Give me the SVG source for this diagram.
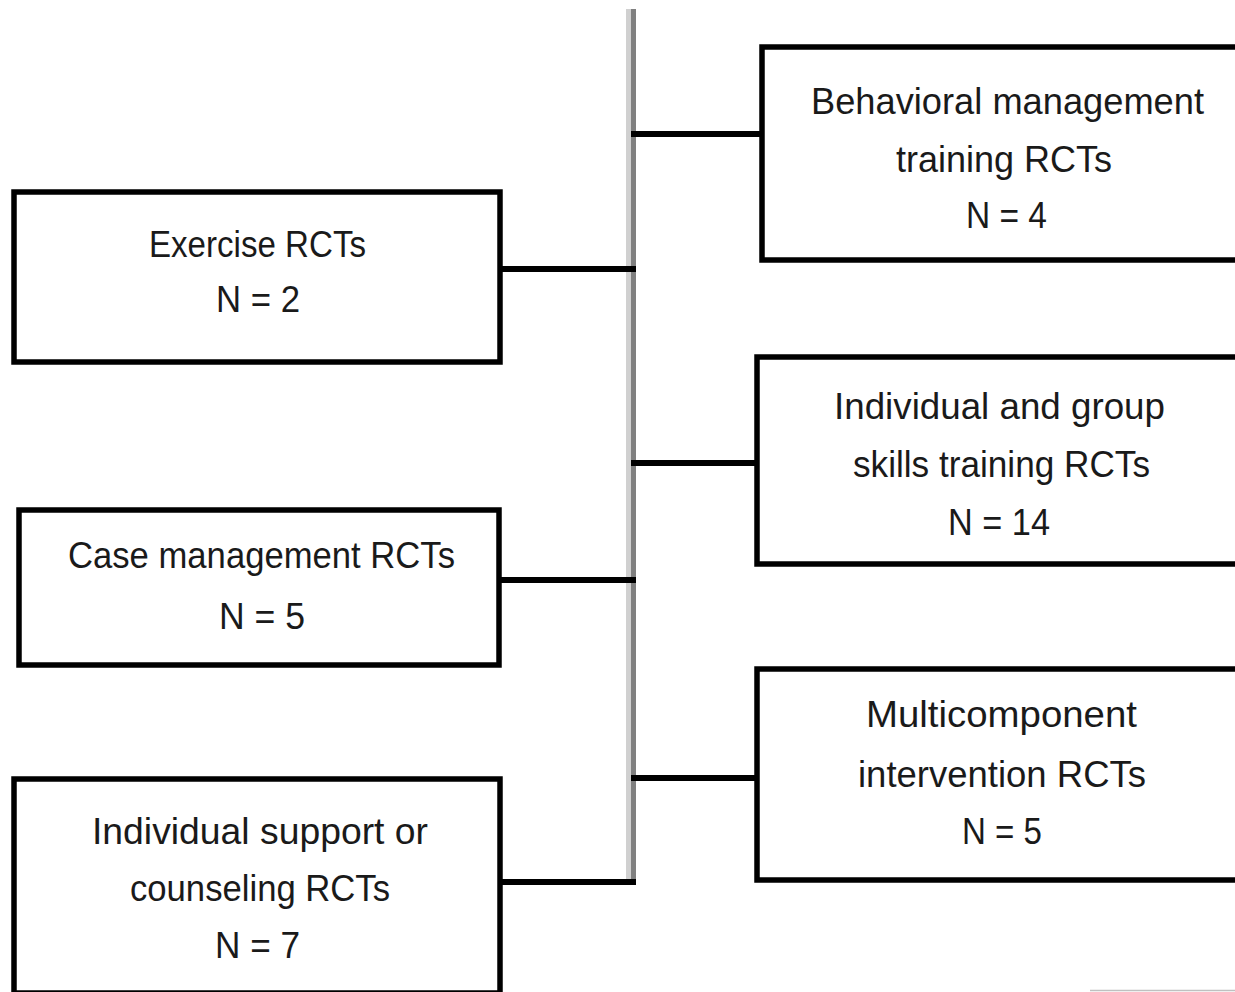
<svg xmlns="http://www.w3.org/2000/svg" width="1235" height="992" viewBox="0 0 1235 992">
<style>
.box{fill:#fff;stroke:#000;stroke-width:5.5}
.con{stroke:#000;stroke-width:6;fill:none}
.t{font-family:"Liberation Sans",Arial,sans-serif;font-size:36px;fill:#1a1a1a;text-anchor:middle}
</style>
<rect width="1235" height="992" fill="#fff"/>
<g id="connectors">
<rect x="626" y="9" width="5" height="870" fill="#d0d0d0"/>
<rect x="631" y="9" width="5" height="870" fill="#808080"/>
<line class="con" x1="500" y1="269" x2="636" y2="269"/>
<line class="con" x1="500" y1="580" x2="636" y2="580"/>
<line class="con" x1="500" y1="882" x2="636" y2="882"/>
<line class="con" x1="631" y1="134" x2="762" y2="134"/>
<line class="con" x1="631" y1="463" x2="757" y2="463"/>
<line class="con" x1="631" y1="778" x2="757" y2="778"/>
</g>
<g id="exercise">
<rect class="box" x="14" y="192" width="486" height="170"/>
<text class="t" x="257.5" y="257" textLength="217" lengthAdjust="spacingAndGlyphs">Exercise RCTs</text>
<text class="t" x="258" y="312" textLength="84" lengthAdjust="spacingAndGlyphs">N = 2</text>
</g>
<g id="case-management">
<rect class="box" x="19" y="510" width="480" height="155"/>
<text class="t" x="261.5" y="568" textLength="387" lengthAdjust="spacingAndGlyphs">Case management RCTs</text>
<text class="t" x="262" y="629" textLength="86" lengthAdjust="spacingAndGlyphs">N = 5</text>
</g>
<g id="individual-support">
<rect class="box" x="14" y="779" width="486" height="214"/>
<text class="t" x="260" y="844" textLength="336" lengthAdjust="spacingAndGlyphs">Individual support or</text>
<text class="t" x="260" y="901" textLength="260" lengthAdjust="spacingAndGlyphs">counseling RCTs</text>
<text class="t" x="257.5" y="958" textLength="85" lengthAdjust="spacingAndGlyphs">N = 7</text>
</g>
<g id="behavioral">
<rect class="box" x="762" y="47" width="500" height="213"/>
<text class="t" x="1007.5" y="114" textLength="393" lengthAdjust="spacingAndGlyphs">Behavioral management</text>
<text class="t" x="1004" y="172" textLength="216" lengthAdjust="spacingAndGlyphs">training RCTs</text>
<text class="t" x="1006.5" y="228" textLength="81" lengthAdjust="spacingAndGlyphs">N = 4</text>
</g>
<g id="skills-training">
<rect class="box" x="757" y="357" width="500" height="207"/>
<text class="t" x="999.5" y="419" textLength="331" lengthAdjust="spacingAndGlyphs">Individual and group</text>
<text class="t" x="1001.5" y="477" textLength="297" lengthAdjust="spacingAndGlyphs">skills training RCTs</text>
<text class="t" x="999" y="535" textLength="102" lengthAdjust="spacingAndGlyphs">N = 14</text>
</g>
<g id="multicomponent">
<rect class="box" x="757" y="669" width="500" height="211"/>
<text class="t" x="1001.5" y="727" textLength="271" lengthAdjust="spacingAndGlyphs">Multicomponent</text>
<text class="t" x="1002" y="787" textLength="288" lengthAdjust="spacingAndGlyphs">intervention RCTs</text>
<text class="t" x="1002" y="844" textLength="80" lengthAdjust="spacingAndGlyphs">N = 5</text>
</g>
<line x1="1090" y1="990.5" x2="1235" y2="990.5" stroke="#c0c0c0" stroke-width="1.5"/>
</svg>
